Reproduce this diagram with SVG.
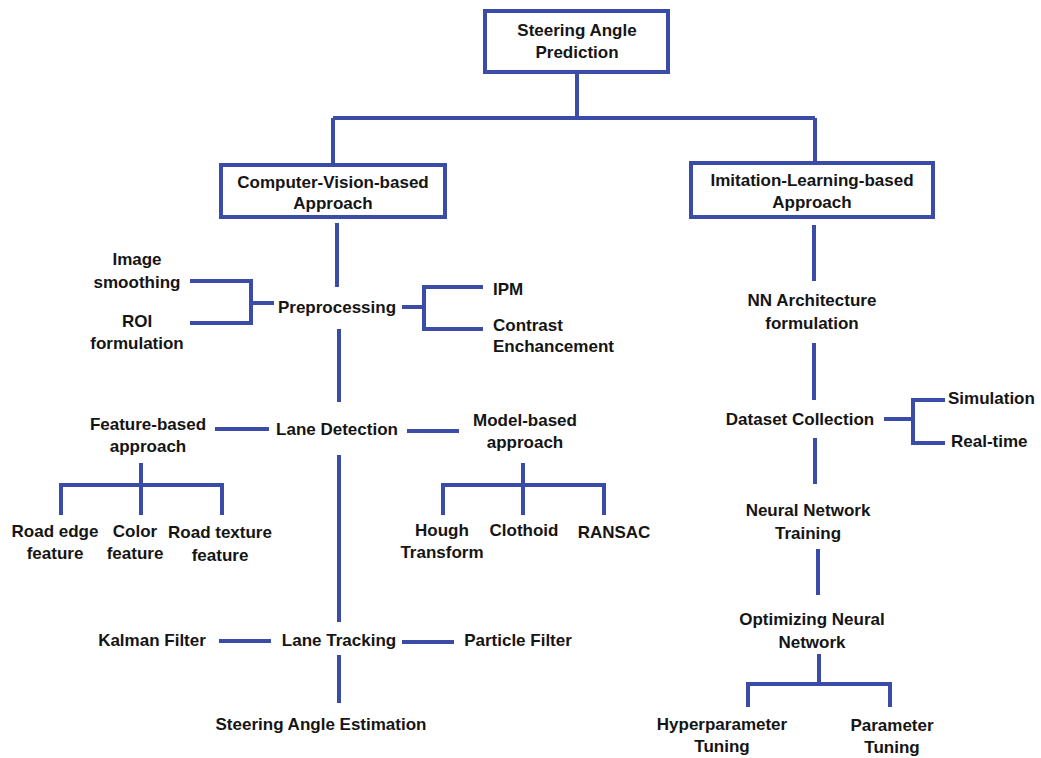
<svg xmlns="http://www.w3.org/2000/svg" width="1041" height="758" viewBox="0 0 1041 758">
<style>
.ln{stroke:#3a4ba8;stroke-width:4;fill:none;stroke-linecap:butt}
.bx{stroke:#3a4ba8;stroke-width:4;fill:#fff}
text{font-family:"Liberation Sans",Arial,sans-serif;font-weight:bold;font-size:17px;fill:#151515;text-anchor:middle;dominant-baseline:central}
.l{text-anchor:start}
</style>
<rect width="1041" height="758" fill="#fff"/>
<g id="connectors">
<path class="ln" d="M577,73V118M333,118H815M333,118V165M815,118V163"/>
<path class="ln" d="M337,223V287M339,329V402M339,455V622M339,655V703"/>
<path class="ln" d="M190,281H251V323H190M251,303H274"/>
<path class="ln" d="M402,307H424M483,287H424V329H483"/>
<path class="ln" d="M215,429H269M407,431H459"/>
<path class="ln" d="M141,463V485M61,515V485H222V515M141,485V515"/>
<path class="ln" d="M523,463V485M443,515V485H604V515M523,485V515"/>
<path class="ln" d="M219,641H271M402,642H454"/>
<path class="ln" d="M814,225V281M814,343V400M815,438V484M818,549V595M819,654V684M748,707V684H890V707"/>
<path class="ln" d="M884,419H913M945,400H913V443H945"/>
</g>
<g id="n-root"><rect class="bx" x="485" y="11" width="183" height="61"/><text x="577" y="30">Steering Angle</text><text x="577" y="52">Prediction</text></g>
<g id="n-cv"><rect class="bx" x="221" y="165" width="224" height="52"/><text x="333" y="182">Computer-Vision-based</text><text x="333" y="203">Approach</text></g>
<g id="n-il"><rect class="bx" x="691" y="163" width="242" height="54"/><text x="812" y="180">Imitation-Learning-based</text><text x="812" y="202">Approach</text></g>
<g id="n-pre"><text x="337" y="307">Preprocessing</text></g>
<g id="n-img"><text x="137" y="259">Image</text><text x="137" y="282">smoothing</text></g>
<g id="n-roi"><text x="137" y="321">ROI</text><text x="137" y="343">formulation</text></g>
<g id="n-ipm"><text class="l" x="493" y="289">IPM</text></g>
<g id="n-con"><text class="l" x="493" y="325">Contrast</text><text class="l" x="493" y="346">Enchancement</text></g>
<g id="n-ld"><text x="337" y="429">Lane Detection</text></g>
<g id="n-fb"><text x="148" y="424">Feature-based</text><text x="148" y="446">approach</text></g>
<g id="n-mb"><text x="525" y="420">Model-based</text><text x="525" y="442">approach</text></g>
<g id="n-re"><text x="55" y="531">Road edge</text><text x="55" y="553">feature</text></g>
<g id="n-col"><text x="135" y="531">Color</text><text x="135" y="553">feature</text></g>
<g id="n-rt"><text x="220" y="532">Road texture</text><text x="220" y="555">feature</text></g>
<g id="n-hough"><text x="442" y="530">Hough</text><text x="442" y="552">Transform</text></g>
<g id="n-clo"><text x="524" y="530">Clothoid</text></g>
<g id="n-ran"><text x="614" y="532">RANSAC</text></g>
<g id="n-kal"><text x="152" y="640">Kalman Filter</text></g>
<g id="n-lt"><text x="339" y="640">Lane Tracking</text></g>
<g id="n-pf"><text x="518" y="640">Particle Filter</text></g>
<g id="n-sae"><text x="321" y="724">Steering Angle Estimation</text></g>
<g id="n-nn"><text x="812" y="300">NN Architecture</text><text x="812" y="323">formulation</text></g>
<g id="n-ds"><text x="800" y="419">Dataset Collection</text></g>
<g id="n-sim"><text class="l" x="948" y="398">Simulation</text></g>
<g id="n-rtm"><text class="l" x="951" y="441">Real-time</text></g>
<g id="n-nnt"><text x="808" y="510">Neural Network</text><text x="808" y="533">Training</text></g>
<g id="n-opt"><text x="812" y="619">Optimizing Neural</text><text x="812" y="642">Network</text></g>
<g id="n-hyp"><text x="722" y="724">Hyperparameter</text><text x="722" y="746">Tuning</text></g>
<g id="n-par"><text x="892" y="725">Parameter</text><text x="892" y="747">Tuning</text></g>
</svg>
